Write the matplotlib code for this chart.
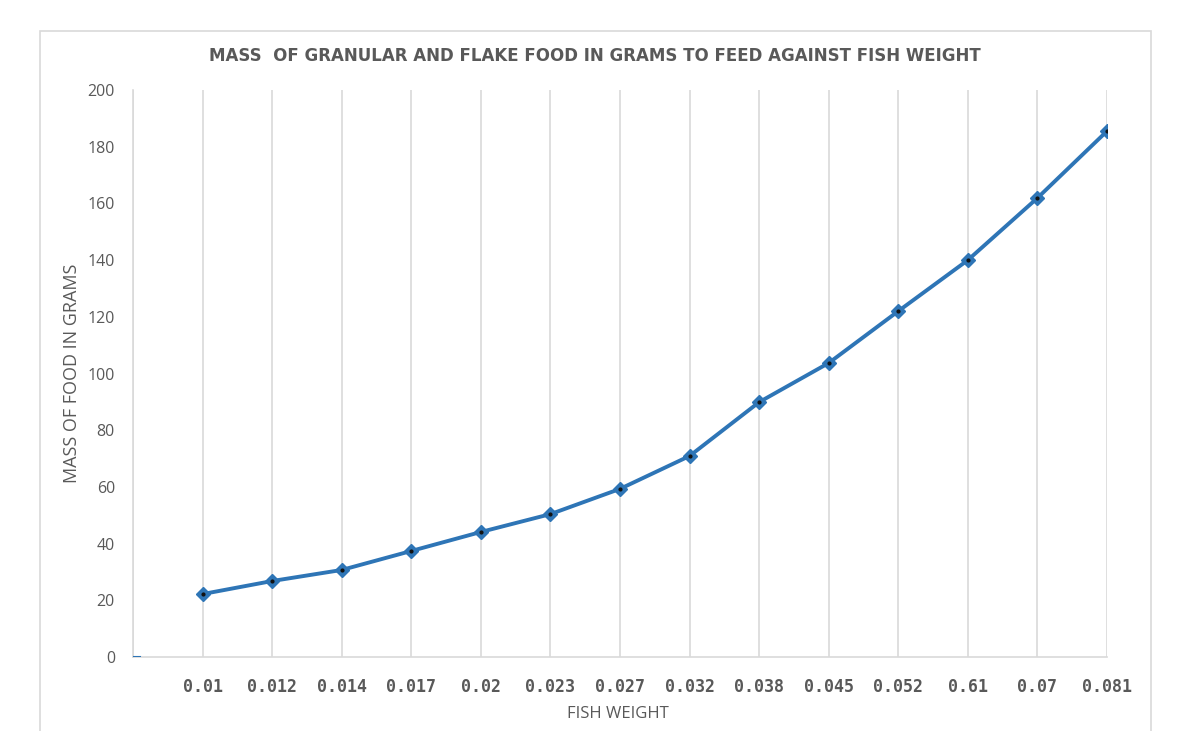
import matplotlib
matplotlib.use('Agg')
import matplotlib.pyplot as plt
from matplotlib.patches import Rectangle

# fish weight categories (first slot left blank on the axis)
weights = ['', '0.01', '0.012', '0.014', '0.017', '0.02', '0.023', '0.027',
           '0.032', '0.038', '0.045', '0.052', '0.61', '0.07', '0.081']
food_mass = [22.2, 26.8, 30.7, 37.4, 44.1, 50.4, 59.3, 70.9,
             89.9, 103.7, 122.0, 140.0, 161.9, 185.5]
y_ticks = [0, 20, 40, 60, 80, 100, 120, 140, 160, 180, 200]

line_blue = '#2E75B6'
text_grey = '#595959'
grid_grey = '#D9D9D9'

fig = plt.figure(figsize=(11.9, 7.31), dpi=100)
ax = fig.add_axes([133 / 1190, 1 - 657 / 731, 974 / 1190, 567 / 731])

# outer chart frame
fig.patches.append(Rectangle((40 / 1190, -0.05), 1111 / 1190, 1 - 31 / 731 + 0.05,
                             transform=fig.transFigure, fill=False,
                             edgecolor=grid_grey, linewidth=1.2))

x = list(range(1, len(weights)))
ax.plot(x, food_mass, color=line_blue, linewidth=2.8, zorder=3,
        marker='D', markersize=7, markerfacecolor=line_blue,
        markeredgecolor=line_blue)
ax.plot(x, food_mass, linestyle='none', marker='o', markersize=2,
        color='#111111', zorder=4)
# lone zero point at the blank category
ax.plot([0, 0.1], [0, 0], color=line_blue, linewidth=1.5, zorder=3)

ax.set_xlim(0, len(weights) - 1)
ax.set_ylim(0, 200)
ax.set_xticks(range(len(weights)))
ax.set_xticklabels(weights, family='DejaVu Sans Mono', fontweight='bold',
                   fontsize=12, color=text_grey)
ax.set_yticks(y_ticks)
ax.set_yticklabels([str(v) for v in y_ticks], family='Open Sans',
                   fontsize=11.5, color=text_grey)
ax.tick_params(axis='both', length=0)
ax.tick_params(axis='x', pad=15)
ax.tick_params(axis='y', pad=13)

ax.grid(axis='x', color=grid_grey, linewidth=1.2)
ax.set_axisbelow(True)
for side in ['top', 'right']:
    ax.spines[side].set_visible(False)
ax.spines['left'].set_color(grid_grey)
ax.spines['bottom'].set_color(grid_grey)
ax.spines['left'].set_linewidth(1.2)
ax.spines['bottom'].set_linewidth(1.2)

fig.text(595 / 1190, 1 - 56 / 731,
         'MASS  OF GRANULAR AND FLAKE FOOD IN GRAMS TO FEED AGAINST FISH WEIGHT',
         ha='center', va='center', fontsize=12, fontweight='bold',
         family='DejaVu Sans', color=text_grey)
fig.text(72 / 1190, 1 - 373 / 731, 'MASS OF FOOD IN GRAMS', rotation=90,
         ha='center', va='center', fontsize=13, family='Open Sans',
         color=text_grey)
fig.text(618 / 1190, 1 - 714 / 731, 'FISH WEIGHT', ha='center', va='center',
         fontsize=12, family='Open Sans', color=text_grey)

fig.savefig('out.png', dpi=100)
